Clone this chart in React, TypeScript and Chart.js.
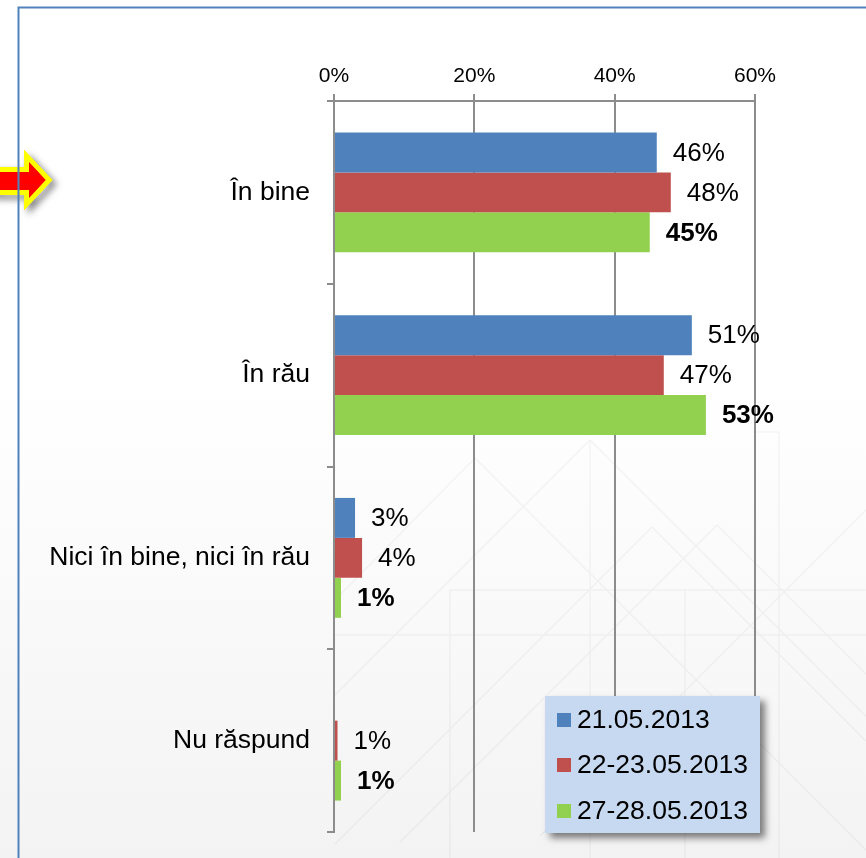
import React, { useEffect, useRef } from "react";
import { Chart, registerables } from "chart.js";

Chart.register(...registerables);

const categories = ["În bine", "În rău", "Nici în bine, nici în rău", "Nu răspund"];
const seriesNames = ["21.05.2013", "22-23.05.2013", "27-28.05.2013"];
const series1: (number | null)[] = [46, 51, 3, null];
const series2: (number | null)[] = [48, 47, 4, 0.5];
const series3: (number | null)[] = [45, 53, 1, 1];
const labels1 = ["46%", "51%", "3%", ""];
const labels2 = ["48%", "47%", "4%", "1%"];
const labels3 = ["45%", "53%", "1%", "1%"];
const xMin = 0;
const xMax = 60;
const xStep = 20;

const colors = ["#4f81bd", "#c0504d", "#92d050"];
const FONT = '"Liberation Sans", Arial, sans-serif';
const labelSets = [labels1, labels2, labels3];

const backgroundPlugin = {
  id: "bgDecor",
  beforeDraw(chart: any) {
    const ctx = chart.ctx as CanvasRenderingContext2D;
    const W = chart.width;
    const H = chart.height;
    ctx.save();
    const g = ctx.createLinearGradient(0, 0, 0, H);
    g.addColorStop(0, "#ffffff");
    g.addColorStop(0.45, "#ffffff");
    g.addColorStop(1, "#f3f3f3");
    ctx.fillStyle = g;
    ctx.fillRect(0, 0, W, H);

    // faint geometric pattern
    ctx.strokeStyle = "rgba(0,0,0,0.04)";
    ctx.lineWidth = 1.5;
    const lines: number[][] = [
      [335, 600, 475, 458],
      [475, 458, 866, 850],
      [590, 440, 866, 716],
      [590, 440, 335, 695],
      [652, 527, 335, 844],
      [652, 527, 866, 741],
      [717, 525, 400, 842],
      [717, 525, 866, 674],
      [866, 510, 540, 836],
      [685, 590, 685, 858],
      [779, 432, 779, 858],
      [590, 440, 590, 858],
      [753, 432, 779, 432],
      [450, 590, 866, 590],
      [335, 635, 866, 635],
      [450, 590, 450, 858],
    ];
    ctx.beginPath();
    for (const l of lines) {
      ctx.moveTo(l[0], l[1]);
      ctx.lineTo(l[2], l[3]);
    }
    ctx.stroke();

    // arrow
    ctx.beginPath();
    ctx.moveTo(-6, 169.5);
    ctx.lineTo(26.5, 169.5);
    ctx.lineTo(26.5, 156);
    ctx.lineTo(49, 180);
    ctx.lineTo(26.5, 204);
    ctx.lineTo(26.5, 192.5);
    ctx.lineTo(-6, 192.5);
    ctx.closePath();
    ctx.save();
    ctx.shadowColor = "rgba(0,0,0,0.55)";
    ctx.shadowBlur = 7;
    ctx.shadowOffsetX = 4;
    ctx.shadowOffsetY = 4;
    ctx.lineWidth = 5;
    ctx.lineJoin = "miter";
    ctx.strokeStyle = "#ffff00";
    ctx.stroke();
    ctx.restore();
    ctx.fillStyle = "#ff0000";
    ctx.fill();
    ctx.lineWidth = 5;
    ctx.strokeStyle = "#ffff00";
    ctx.stroke();
    ctx.fillStyle = "#ff0000";
    ctx.beginPath();
    ctx.moveTo(-6, 172);
    ctx.lineTo(29, 172);
    ctx.lineTo(29, 162);
    ctx.lineTo(45.5, 180);
    ctx.lineTo(29, 198);
    ctx.lineTo(29, 190);
    ctx.lineTo(-6, 190);
    ctx.closePath();
    ctx.fill();

    // frame
    ctx.strokeStyle = "#4f81bd";
    ctx.lineWidth = 2;
    ctx.beginPath();
    ctx.moveTo(18.5, H + 2);
    ctx.lineTo(18.5, 7.5);
    ctx.lineTo(W + 2, 7.5);
    ctx.stroke();
    ctx.restore();
  },
};

const dataLabelPlugin = {
  id: "dataLabels",
  afterDatasetsDraw(chart: any) {
    const ctx = chart.ctx as CanvasRenderingContext2D;
    ctx.save();
    chart.data.datasets.forEach((_ds: any, di: number) => {
      const meta = chart.getDatasetMeta(di);
      meta.data.forEach((el: any, i: number) => {
        const txt = labelSets[di][i];
        if (!txt || !isFinite(el.x)) return;
        ctx.font = (di === 2 ? "bold " : "") + "26px " + FONT;
        ctx.fillStyle = "#000000";
        ctx.textAlign = "left";
        ctx.textBaseline = "middle";
        ctx.fillText(txt, el.x + 16, el.y + 1);
      });
    });
    ctx.restore();
  },
};

const legendPlugin = {
  id: "customLegend",
  afterDraw(chart: any) {
    const ctx = chart.ctx as CanvasRenderingContext2D;
    const x = 545;
    const y = 696;
    const w = 215;
    const h = 137;
    ctx.save();
    ctx.save();
    ctx.shadowColor = "rgba(0,0,0,0.5)";
    ctx.shadowBlur = 7;
    ctx.shadowOffsetX = 5;
    ctx.shadowOffsetY = 5;
    ctx.fillStyle = "#c6d9f1";
    ctx.fillRect(x, y, w, h);
    ctx.restore();
    const rows = [720, 765, 811];
    chart.data.datasets.forEach((ds: any, i: number) => {
      ctx.fillStyle = ds.backgroundColor;
      ctx.fillRect(557, rows[i] - 7, 14, 14);
      ctx.fillStyle = "#000000";
      ctx.font = "26.5px " + FONT;
      ctx.textAlign = "left";
      ctx.textBaseline = "middle";
      ctx.fillText(ds.label, 577, rows[i] + 1);
    });
    ctx.restore();
  },
};

export default function App() {
  const ref = useRef<HTMLCanvasElement | null>(null);
  useEffect(() => {
    if (!ref.current) return;
    const seriesData = [series1, series2, series3];
    const chart = new Chart(ref.current, {
      type: "bar",
      data: {
        labels: categories,
        datasets: seriesNames.map((name, i) => ({
          label: name,
          data: seriesData[i] as any,
          backgroundColor: colors[i],
          borderWidth: 0,
          barPercentage: 1,
          categoryPercentage: 0.656,
        })),
      },
      options: {
        indexAxis: "y",
        animation: false,
        responsive: false,
        devicePixelRatio: 1,
        layout: { padding: { top: 0, right: 111, bottom: 26, left: 0 } },
        plugins: {
          legend: { display: false },
          tooltip: { enabled: false },
        },
        scales: {
          x: {
            position: "top",
            min: xMin,
            max: xMax,
            ticks: {
              stepSize: xStep,
              callback: (v: any) => v + "%",
              color: "#000000",
              font: { family: FONT, size: 21 },
              padding: 5,
            },
            grid: { color: "#8c8c8c", lineWidth: 2, tickLength: 7, drawTicks: true },
            border: { display: true, color: "#8c8c8c", width: 2 },
            afterFit: (s: any) => {
              s.height = 101;
              s.paddingLeft = 0;
              s.paddingRight = 0;
            },
          },
          y: {
            ticks: {
              color: "#000000",
              font: { family: FONT, size: 26.5 },
              padding: 17,
            },
            grid: {
              drawOnChartArea: false,
              color: "#8c8c8c",
              lineWidth: 2,
              tickLength: 7,
              offset: true,
            },
            border: { display: true, color: "#8c8c8c", width: 2 },
            afterFit: (s: any) => {
              s.width = 334;
              s.paddingTop = 0;
              s.paddingBottom = 0;
            },
          },
        },
      } as any,
      plugins: [backgroundPlugin, dataLabelPlugin, legendPlugin],
    });
    return () => chart.destroy();
  }, []);
  return (
    <div style={{ position: "absolute", left: 0, top: 0, width: 866, height: 858 }}>
      <canvas ref={ref} width={866} height={858} style={{ display: "block", width: 866, height: 858 }} />
    </div>
  );
}
